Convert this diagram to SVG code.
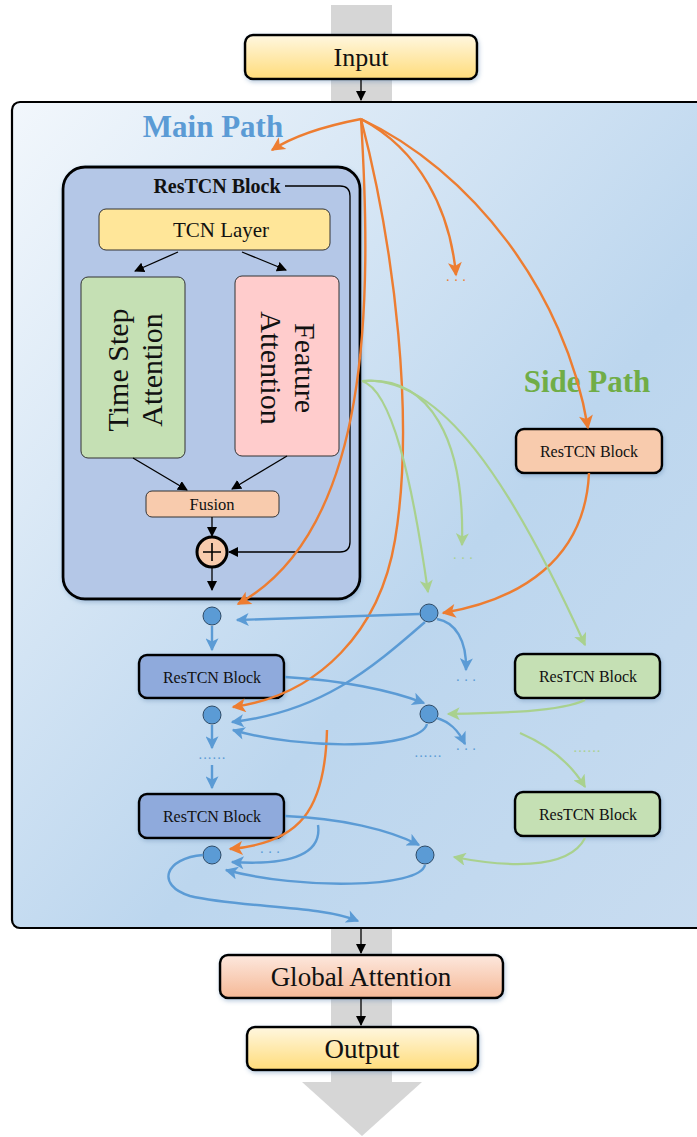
<svg xmlns="http://www.w3.org/2000/svg" width="697" height="1137" viewBox="0 0 697 1137">
<defs>
<linearGradient id="gPanel" x1="0" y1="0" x2="1" y2="1">
<stop offset="0" stop-color="#f2f7fc"/>
<stop offset="0.6" stop-color="#bcd6ee"/>
<stop offset="1" stop-color="#c8dcf0"/>
</linearGradient>
<linearGradient id="gYel" x1="0" y1="0" x2="0" y2="1">
<stop offset="0" stop-color="#fff7e0"/>
<stop offset="1" stop-color="#ffdc7a"/>
</linearGradient>
<linearGradient id="gOra" x1="0" y1="0" x2="0" y2="1">
<stop offset="0" stop-color="#fde8de"/>
<stop offset="1" stop-color="#f5b896"/>
</linearGradient>
<filter id="sh" x="-20%" y="-20%" width="140%" height="140%">
<feDropShadow dx="1" dy="2" stdDeviation="2" flood-color="#6a8fb8" flood-opacity="0.45"/>
</filter>
<marker id="aK" viewBox="0 0 10 10" refX="9" refY="5" markerWidth="10" markerHeight="10" markerUnits="userSpaceOnUse" orient="auto"><path d="M0,0 L10,5 L0,10 z" fill="#000"/></marker>
<marker id="aO" viewBox="0 0 10 10" refX="9" refY="5" markerWidth="15" markerHeight="14" markerUnits="userSpaceOnUse" orient="auto"><path d="M0,0 L10,5 L0,10 L2.5,5 z" fill="#ed7d31"/></marker>
<marker id="aB" viewBox="0 0 10 10" refX="9" refY="5" markerWidth="14" markerHeight="13" markerUnits="userSpaceOnUse" orient="auto"><path d="M0,0 L10,5 L0,10 L2.5,5 z" fill="#5b9bd5"/></marker>
<marker id="aG" viewBox="0 0 10 10" refX="9" refY="5" markerWidth="14" markerHeight="13" markerUnits="userSpaceOnUse" orient="auto"><path d="M0,0 L10,5 L0,10 L2.5,5 z" fill="#a9d18e"/></marker>
</defs>
<style>
text{font-family:"Liberation Serif","Times New Roman",serif;fill:#111;text-anchor:middle;dominant-baseline:central}
.blk{stroke:#000;stroke-width:2.5}
.thin{stroke:#333;stroke-width:1}
.o{fill:none;stroke:#ed7d31;stroke-width:2.4;marker-end:url(#aO)}
.b{fill:none;stroke:#5b9bd5;stroke-width:2.4;marker-end:url(#aB)}
.g{fill:none;stroke:#a9d18e;stroke-width:2.2;marker-end:url(#aG)}
.k{fill:none;stroke:#000;stroke-width:1.3;marker-end:url(#aK)}
.dot{fill:#5b9bd5;stroke:#2e4a66;stroke-width:1}
.lbl{font-size:16px}
</style>
<g id="backbone">
<rect x="331" y="5" width="61" height="1078" fill="#d6d6d6"/>
<polygon points="302,1082 422,1082 362,1136" fill="#d6d6d6"/>
</g>
<g id="input">
<rect x="245" y="35" width="232" height="44" rx="8" fill="url(#gYel)" class="blk" filter="url(#sh)"/>
<text x="361" y="57" font-size="26">Input</text>
</g>
<g id="main-panel">
<rect x="12" y="102" width="700" height="826" rx="8" fill="url(#gPanel)" stroke="#000" stroke-width="2.2"/>
<text x="213" y="126" font-size="31" font-weight="bold" style="fill:#5b9bd5">Main Path</text>
<text x="587" y="381" font-size="31" font-weight="bold" style="fill:#70ad47">Side Path</text>
</g>
<g id="restcn-detail">
<rect x="63" y="167" width="297" height="432" rx="22" fill="#b4c7e7" stroke="#000" stroke-width="2.8" filter="url(#sh)"/>
<text x="217" y="186" font-size="20" font-weight="bold">ResTCN Block</text>
</g>
<g id="tcn-layer">
<rect x="99" y="209" width="231" height="41" rx="7" fill="#ffe699" class="thin"/>
<text x="221" y="230" font-size="21">TCN Layer</text>
</g>
<g id="time-step-attention">
<rect x="81" y="277" width="104" height="181" rx="7" fill="#c5e0b4" class="thin"/>
<text transform="translate(134,370) rotate(-90)" font-size="30"><tspan x="0" y="-17">Time Step</tspan><tspan x="0" y="17">Attention</tspan></text>
</g>
<g id="feature-attention">
<rect x="235" y="276" width="104" height="180" rx="7" fill="#ffcccc" class="thin"/>
<text transform="translate(289,368) rotate(90)" font-size="30"><tspan x="0" y="-17">Feature</tspan><tspan x="0" y="17">Attention</tspan></text>
</g>
<g id="fusion">
<rect x="146" y="491" width="133" height="26" rx="6" fill="#f8cbad" class="thin"/>
<text x="212" y="504" font-size="16.5">Fusion</text>
</g>
<g id="add">
<circle cx="212" cy="552" r="15" fill="#f8cbad" stroke="#000" stroke-width="3"/>
<path d="M203,552 H221 M212,543 V561" stroke="#000" stroke-width="1.6"/>
</g>
<g id="main-node-1"><circle cx="212" cy="616" r="9" class="dot"/></g>
<g id="main-block-1">
<rect x="139" y="655" width="145" height="43" rx="8" fill="#8faadc" class="blk" filter="url(#sh)"/>
<text x="212" y="677" class="lbl">ResTCN Block</text>
</g>
<g id="main-node-2"><circle cx="212" cy="715" r="9" class="dot"/></g>
<g id="main-block-2">
<rect x="139" y="794" width="145" height="44" rx="8" fill="#8faadc" class="blk" filter="url(#sh)"/>
<text x="212" y="816" class="lbl">ResTCN Block</text>
</g>
<g id="main-node-3"><circle cx="212" cy="855" r="9" class="dot"/></g>
<g id="side-node-1"><circle cx="429" cy="613" r="9" class="dot"/></g>
<g id="side-node-2"><circle cx="429" cy="714" r="9" class="dot"/></g>
<g id="side-node-3"><circle cx="425" cy="855" r="9" class="dot"/></g>
<g id="side-block-1">
<rect x="516" y="429" width="146" height="44" rx="8" fill="#f8cbad" class="blk" filter="url(#sh)"/>
<text x="589" y="451" class="lbl">ResTCN Block</text>
</g>
<g id="side-block-2">
<rect x="515" y="654" width="145" height="44" rx="8" fill="#c5e0b4" class="blk" filter="url(#sh)"/>
<text x="588" y="676" class="lbl">ResTCN Block</text>
</g>
<g id="side-block-3">
<rect x="515" y="792" width="145" height="44" rx="8" fill="#c5e0b4" class="blk" filter="url(#sh)"/>
<text x="588" y="814" class="lbl">ResTCN Block</text>
</g>
<g id="global-attention">
<rect x="220" y="955" width="283" height="43" rx="8" fill="url(#gOra)" class="blk" filter="url(#sh)"/>
<text x="361" y="977" font-size="27">Global Attention</text>
</g>
<g id="output">
<rect x="247" y="1027" width="231" height="43" rx="8" fill="url(#gYel)" class="blk" filter="url(#sh)"/>
<text x="362" y="1049" font-size="27">Output</text>
</g>
<g id="connectors">
<path class="k" d="M361,79 V100"/>
<path class="k" d="M178,252 L135,271"/>
<path class="k" d="M242,252 L286,270"/>
<path class="k" d="M133,458 L187,490"/>
<path class="k" d="M287,456 L232,489"/>
<path class="k" d="M212,517 V536"/>
<path class="k" d="M212,568 V590"/>
<path class="k" d="M285,186 H340 Q350,186 350,196 V542 Q350,552 340,552 H229"/>
<path class="k" d="M361,928 V953"/>
<path class="k" d="M361,998 V1025"/>
<!-- orange -->
<path class="o" d="M361,119 C330,125 295,135 272,150"/>
<path class="o" d="M361,119 C372,300 372,530 238,604"/>
<path class="o" d="M361,119 C395,250 415,420 395,540 C380,630 320,695 233,707"/>
<path class="o" d="M361,119 C420,150 450,210 456,275"/>
<path class="o" d="M361,119 C470,170 565,290 588,428"/>
<path class="o" d="M589,473 C585,560 520,600 443,613"/>
<path class="o" d="M327,730 C325,810 300,843 230,849"/>
<!-- green -->
<path class="g" d="M362,381 C392,390 412,480 428,592"/>
<path class="g" d="M362,381 C430,375 465,440 462,545"/>
<path class="g" d="M362,381 C440,375 510,480 585,645"/>
<path class="g" d="M585,700 C560,712 500,713 448,714"/>
<path class="g" d="M520,733 C548,745 570,762 585,787"/>
<path class="g" d="M585,838 C568,872 500,866 454,857"/>
<!-- blue -->
<path class="b" d="M212,626 V650"/>
<path class="b" d="M212,725 V748"/>
<path class="b" d="M212,765 V788"/>
<path class="b" d="M420,614 L237,620"/>
<path class="b" d="M437,619 C455,622 467,640 466,670"/>
<path class="b" d="M425,622 C370,670 320,712 232,722"/>
<path class="b" d="M285,677 C340,680 390,690 424,703"/>
<path class="b" d="M427,724 C420,750 300,750 233,730"/>
<path class="b" d="M437,718 C450,722 458,730 465,744"/>
<path class="b" d="M285,816 C340,818 390,830 419,845"/>
<path class="b" d="M318,825 C322,852 295,866 232,862"/>
<path class="b" d="M425,865 C420,888 300,890 226,870"/>
<path class="b" d="M203,855 C165,858 155,885 190,896 C240,908 320,905 358,921"/>
</g>
<g id="ellipses" font-size="14">
<text x="456" y="280" style="fill:#ed7d31">· · ·</text>
<text x="463" y="558" style="fill:#a9d18e">· · ·</text>
<text x="466" y="680" style="fill:#5b9bd5">· · ·</text>
<text x="466" y="749" style="fill:#5b9bd5">· · ·</text>
<text x="428" y="756" style="fill:#5b9bd5">······</text>
<text x="212" y="758" style="fill:#5b9bd5">······</text>
<text x="587" y="751" style="fill:#a9d18e">······</text>
<text x="270" y="852" style="fill:#5b9bd5">· · ·</text>
</g>
</svg>
